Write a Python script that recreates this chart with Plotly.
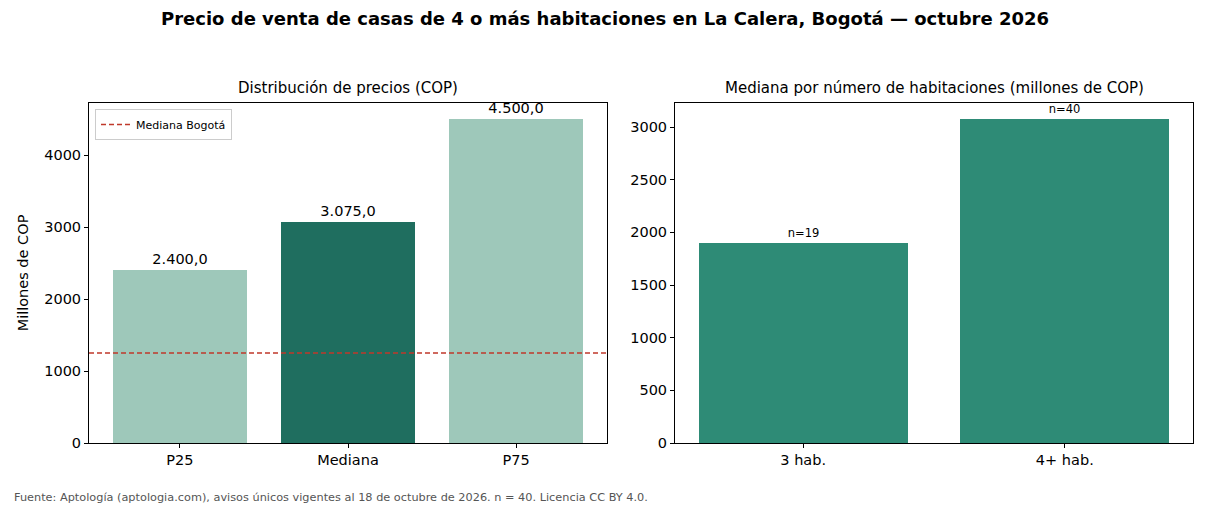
import plotly.graph_objects as go

# Data
dist_labels = ["P25", "Mediana", "P75"]
dist_values = [2400.0, 3075.0, 4500.0]
bogota_median = 1250.0
room_labels = ["3 hab.", "4+ hab."]
room_values = [1900.0, 3075.0]
room_counts = [19, 40]

FONT = "DejaVu Sans"
light = "#9ec8ba"
dark = "#1f6e5f"
mid = "#2e8b76"
red = "#c0392b"

def fmt_es(v):
    s = f"{v:,.1f}"
    return s.replace(",", "X").replace(".", ",").replace("X", ".")

fig = go.Figure()

fig.add_trace(go.Bar(
    x=list(range(len(dist_labels))), y=dist_values,
    marker=dict(color=[light, dark, light], line=dict(width=0)),
    width=0.8, text=[fmt_es(v) for v in dist_values], textposition="outside",
    textfont=dict(family=FONT, size=14.5, color="black"), cliponaxis=False,
    xaxis="x", yaxis="y", showlegend=False, hoverinfo="skip"))

fig.add_trace(go.Scatter(
    x=[-0.54, 2.54], y=[bogota_median, bogota_median], mode="lines",
    line=dict(color=red, width=1.5, dash="5px,3px"), name="Mediana Bogotá",
    xaxis="x", yaxis="y", showlegend=True))

fig.add_trace(go.Bar(
    x=list(range(len(room_labels))), y=room_values,
    marker=dict(color=mid, line=dict(width=0)),
    width=0.8, text=[f"n={n}" for n in room_counts], textposition="outside",
    textfont=dict(family=FONT, size=11.5, color="black"), cliponaxis=False,
    xaxis="x2", yaxis="y2", showlegend=False, hoverinfo="skip"))

W, H = 1210, 506
def px(x): return x / W
def py(y): return 1 - y / H

TICK = 14.5
axis_common = dict(showline=True, linecolor="black", linewidth=1, mirror=True,
                   ticks="outside", ticklen=4, tickcolor="black", showgrid=False,
                   zeroline=False, tickfont=dict(family=FONT, size=TICK, color="black"))

fig.update_layout(
    width=W, height=H + 8, margin=dict(l=0, r=0, t=0, b=0),
    plot_bgcolor="white", paper_bgcolor="white",
    font=dict(family=FONT, color="black"),
    bargap=0,
    xaxis=dict(domain=[px(89), px(607)], range=[-0.54, 2.54], anchor="y",
               tickmode="array", tickvals=list(range(len(dist_labels))), ticktext=dist_labels,
               **axis_common),
    yaxis=dict(domain=[py(443), py(103)], range=[0, 4725], anchor="x",
               tickvals=[0, 1000, 2000, 3000, 4000],
               title=dict(text="Millones de COP", font=dict(family=FONT, size=TICK), standoff=12),
               **axis_common),
    xaxis2=dict(domain=[px(675), px(1193)], range=[-0.49, 1.49], anchor="y2",
                tickmode="array", tickvals=list(range(len(room_labels))), ticktext=room_labels,
                **axis_common),
    yaxis2=dict(domain=[py(443), py(103)], range=[0, 3228.75], anchor="x2",
                tickvals=[0, 500, 1000, 1500, 2000, 2500, 3000],
                **axis_common),
    legend=dict(x=px(95), y=py(109), xanchor="left", yanchor="top",
                bgcolor="white", bordercolor="#cccccc", borderwidth=1,
                font=dict(family=FONT, size=11), itemwidth=30),
    annotations=[
        dict(text="<b>Precio de venta de casas de 4 o más habitaciones en La Calera, Bogotá — octubre 2026</b>",
             x=0.5, y=py(18), xref="paper", yref="paper", showarrow=False,
             xanchor="center", yanchor="middle", font=dict(family=FONT, size=18, color="black")),
        dict(text="Distribución de precios (COP)", x=(px(89) + px(607)) / 2, y=py(88),
             xref="paper", yref="paper", showarrow=False, xanchor="center", yanchor="middle",
             font=dict(family=FONT, size=15, color="black")),
        dict(text="Mediana por número de habitaciones (millones de COP)", x=(px(675) + px(1193)) / 2, y=py(88),
             xref="paper", yref="paper", showarrow=False, xanchor="center", yanchor="middle",
             font=dict(family=FONT, size=15, color="black")),
        dict(text="Fuente: Aptología (aptologia.com), avisos únicos vigentes al 18 de octubre de 2026. n = 40. Licencia CC BY 4.0.",
             x=px(12), y=py(497), xref="paper", yref="paper", showarrow=False,
             xanchor="left", yanchor="middle", font=dict(family=FONT, size=11.3, color="#555555")),
    ],
)

fig.write_html("out.html")
